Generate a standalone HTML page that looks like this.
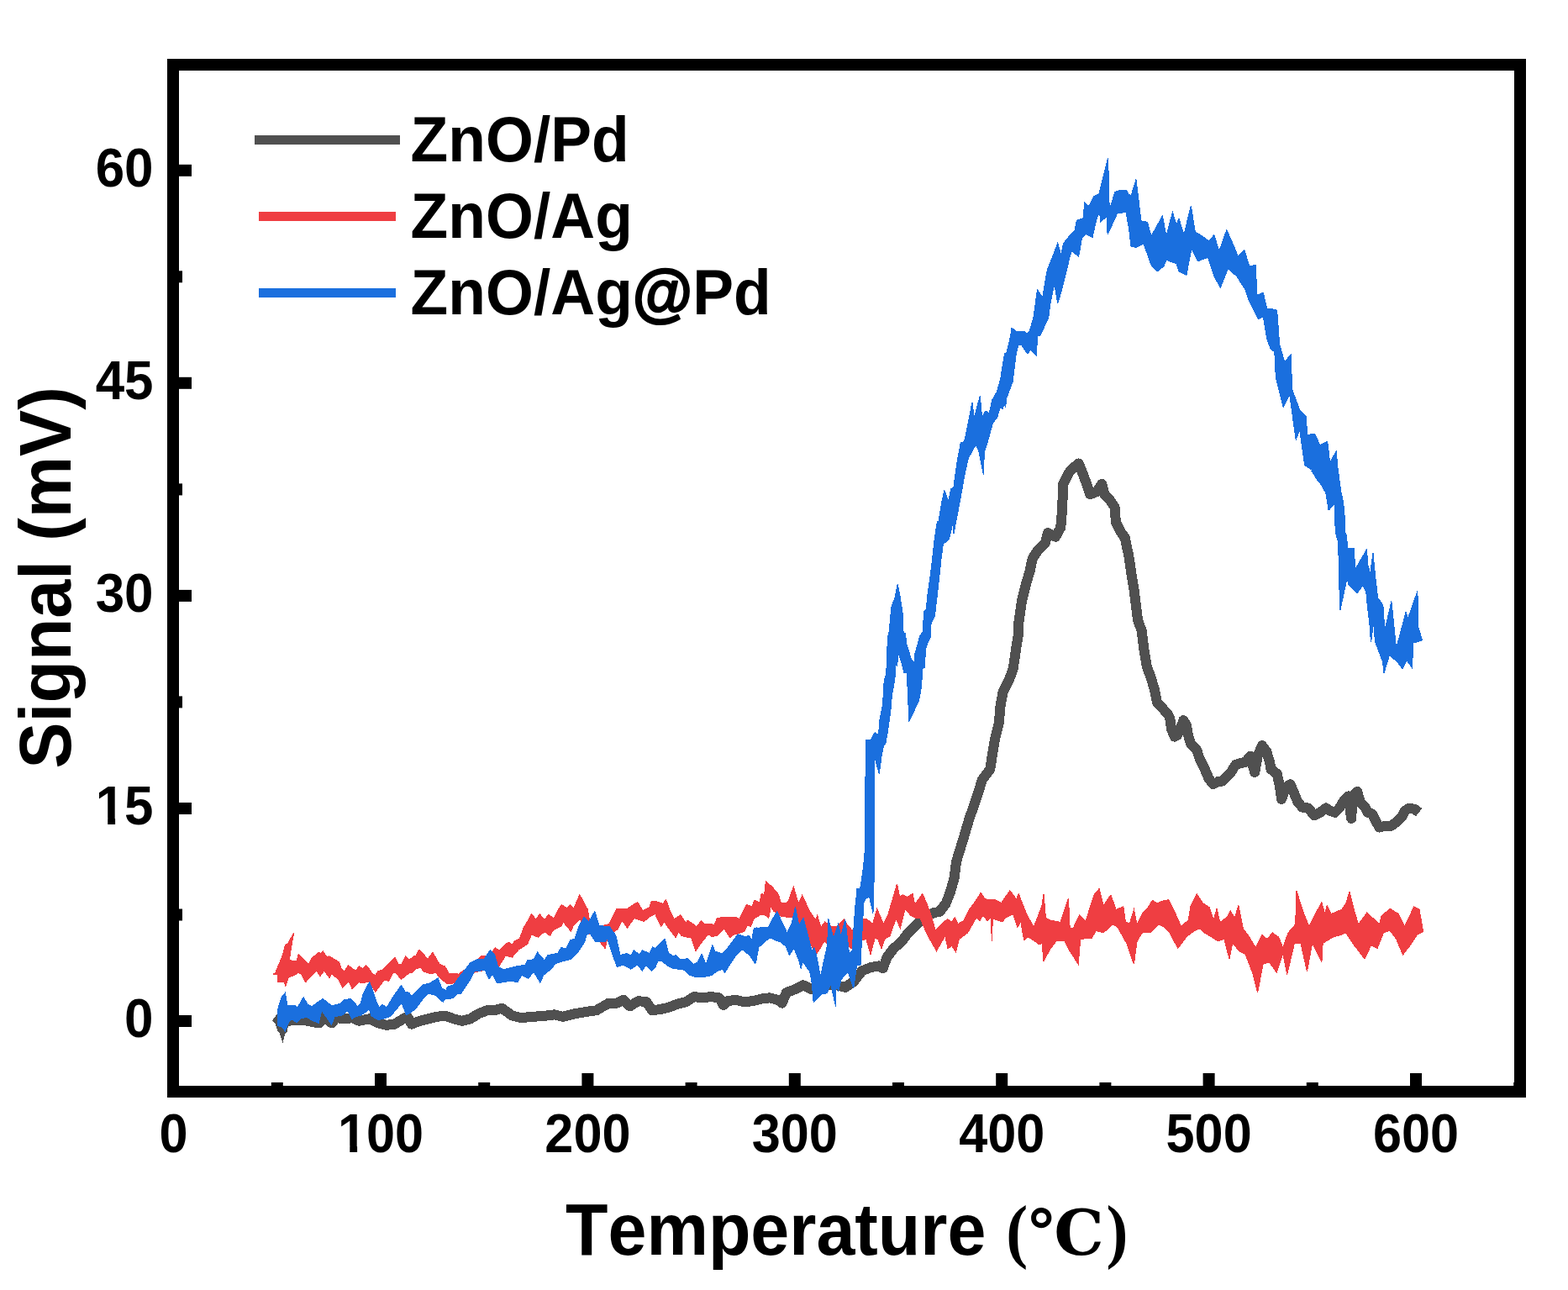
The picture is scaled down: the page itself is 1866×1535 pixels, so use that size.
<!DOCTYPE html>
<html><head><meta charset="utf-8"><title>Signal vs Temperature</title>
<style>html,body{margin:0;padding:0;background:#fff;}svg{display:block;}text{font-kerning:none;font-feature-settings:'kern' 0;}</style>
</head><body>
<svg width="1866" height="1535" viewBox="0 0 1866 1535">
<rect width="1866" height="1535" fill="#fff"/>
<g shape-rendering="crispEdges"><polyline points="327.5,1209.8 332.5,1213.6 336.2,1224.8 337.5,1217.3 347.5,1213.6 360.0,1213.6 372.4,1216.1 379.9,1217.3 384.9,1209.8 394.9,1217.3 399.9,1211.1 409.9,1212.3 419.9,1211.1 427.4,1214.8 439.9,1212.3 449.9,1217.3 459.9,1219.8 469.8,1218.6 479.8,1212.3 484.8,1209.8 489.8,1218.6 499.8,1214.8 509.8,1212.3 519.8,1209.8 529.8,1208.6 539.8,1212.3 549.8,1214.8 559.8,1212.3 569.7,1206.1 579.7,1202.3 589.7,1201.8 597.2,1199.8 609.7,1208.6 619.7,1211.1 634.7,1209.8 649.7,1208.6 659.7,1207.3 669.6,1209.8 684.6,1206.1 699.6,1203.6 709.6,1202.3 724.6,1193.6 734.6,1193.6 742.1,1189.8 749.6,1197.3 759.6,1191.1 769.5,1192.3 776.0,1202.3 786.0,1201.0 796.0,1198.6 806.0,1194.8 816.0,1192.3 826.0,1186.1 835.9,1187.3 845.9,1186.1 855.9,1187.3 860.9,1196.1 865.9,1191.1 875.9,1189.8 885.9,1192.3 895.9,1191.1 905.9,1188.6 915.9,1187.3 925.9,1189.8 930.8,1193.6 935.8,1181.1 945.8,1177.3 955.8,1172.3 965.8,1177.3 975.8,1174.8 985.8,1172.3 995.8,1172.3 1005.8,1174.8 1015.8,1168.1 1025.8,1155.3 1035.7,1151.3 1045.7,1149.4 1050.7,1152.3 1055.7,1138.9 1063.2,1128.9 1073.2,1120.1 1080.7,1109.9 1085.7,1104.9 1093.2,1097.9 1100.7,1091.2 1110.7,1086.2 1118.2,1084.9 1125.7,1074.9 1130.6,1062.4 1135.6,1045.0 1138.1,1025.0 1145.9,999.9 1153.6,973.8 1161.2,952.4 1168.9,927.9 1178.1,915.7 1181.1,897.3 1184.2,878.9 1188.8,860.6 1190.3,842.2 1193.4,823.8 1201.0,808.5 1205.6,796.3 1208.7,774.9 1211.7,756.5 1212.6,738.1 1216.3,713.7 1220.9,695.3 1225.5,680.0 1228.6,664.7 1234.7,655.5 1243.9,646.3 1246.9,634.1 1256.1,638.7 1262.2,627.9 1263.8,609.6 1264.7,591.2 1265.3,575.9 1271.4,563.7 1274.5,559.1 1283.7,551.4 1289.8,566.7 1297.4,588.2 1305.1,585.1 1311.2,575.9 1314.3,588.2 1320.4,594.3 1326.5,603.5 1328.0,621.8 1332.6,631.0 1338.8,640.2 1343.3,661.6 1346.4,683.0 1349.5,701.4 1354.1,738.1 1358.6,750.4 1361.7,774.9 1364.8,793.2 1369.4,805.5 1374.0,820.8 1377.0,836.1 1383.1,842.2 1390.8,851.4 1392.4,855.4 1394.1,867.7 1397.7,876.6 1401.2,874.8 1407.4,860.7 1408.3,857.1 1411.8,862.4 1413.6,873.1 1417.1,885.4 1424.2,892.5 1427.7,903.1 1433.1,913.7 1438.4,926.1 1443.7,933.2 1450.7,929.6 1454.3,929.6 1461.3,922.6 1464.9,919.0 1470.2,910.2 1475.5,908.4 1482.6,906.6 1487.9,899.6 1493.2,919.0 1496.7,899.6 1502.0,887.2 1507.3,894.3 1510.9,906.6 1512.6,915.5 1519.7,920.8 1523.2,936.7 1525.0,950.9 1530.3,936.7 1535.6,933.2 1539.2,942.0 1544.5,954.4 1549.8,960.6 1556.8,961.5 1563.9,970.3 1571.0,966.8 1578.1,961.5 1583.4,965.0 1588.7,966.8 1594.0,961.5 1599.3,952.6 1604.6,947.3 1608.1,973.8 1609.9,947.3 1615.2,942.0 1618.7,954.4 1624.0,959.7 1627.6,966.8 1632.9,968.5 1638.2,979.2 1641.7,984.5 1648.8,982.7 1655.9,982.7 1662.9,977.4 1668.2,972.1 1671.8,965.0 1677.1,961.5 1684.2,963.2 1688.6,966.8" fill="none" stroke="#505050" stroke-width="12" stroke-linejoin="round"/><polygon points="327.5,1213.0 336.5,1241.0 341.0,1224.0 336.0,1214.0" fill="#505050"/><polygon points="325.1,1159.0 327.7,1157.7 332.9,1144.9 336.7,1135.9 339.3,1124.3 341.9,1123.7 349.6,1110.2 346.4,1128.2 344.4,1142.3 347.0,1143.0 350.2,1143.0 352.8,1143.6 355.4,1135.2 358.6,1138.5 367.6,1147.5 370.8,1140.4 379.2,1133.3 381.7,1134.6 384.3,1132.0 389.5,1139.1 392.0,1137.8 397.2,1141.0 403.6,1144.9 406.2,1152.6 410.0,1155.8 414.5,1148.7 422.9,1155.2 427.4,1150.0 431.9,1152.6 435.1,1148.7 438.3,1151.3 443.5,1159.0 446.7,1160.3 449.9,1155.8 455.0,1153.9 458.9,1150.0 469.8,1139.1 474.3,1147.5 477.6,1148.1 482.7,1137.8 487.2,1142.3 492.3,1137.8 494.9,1137.2 498.8,1130.1 509.1,1141.0 514.9,1133.3 523.2,1147.5 529.6,1150.0 534.1,1158.4 545.0,1159.0 545.0,1159.6 559.3,1149.3 572.8,1137.7 577.3,1137.7 583.7,1135.2 589.5,1127.5 594.0,1131.3 600.5,1124.9 605.0,1121.0 609.5,1124.2 612.0,1120.4 618.5,1116.5 623.6,1103.0 627.5,1096.6 632.6,1087.6 637.7,1094.0 642.3,1087.6 648.0,1094.7 652.5,1088.2 659.0,1092.7 663.5,1083.7 668.0,1076.7 675.0,1080.5 678.3,1076.7 682.8,1081.2 689.8,1064.4 699.5,1082.4 701.4,1094.0 711.1,1099.2 713.6,1101.7 722.6,1100.5 725.2,1099.2 734.2,1081.2 745.8,1081.8 758.6,1073.4 765.1,1083.7 772.8,1079.9 775.4,1072.2 780.0,1072.2 780.0,1072.4 786.7,1074.4 788.6,1075.7 792.5,1070.5 797.0,1082.7 802.2,1093.7 809.9,1088.5 816.3,1098.2 818.2,1095.0 829.2,1102.7 834.3,1095.6 838.2,1099.5 847.2,1099.5 849.7,1100.7 853.6,1092.4 864.5,1091.1 875.5,1091.1 880.0,1093.7 888.3,1076.3 894.8,1078.9 898.0,1071.2 903.8,1073.7 906.3,1063.4 909.5,1064.7 911.5,1048.6 919.2,1055.7 926.3,1064.1 929.5,1074.4 935.9,1074.4 938.5,1071.2 944.3,1055.1 950.1,1075.0 954.6,1065.4 964.2,1085.3 970.6,1094.3 972.6,1089.2 977.1,1103.3 981.6,1096.9 988.6,1102.0 996.4,1102.0 1001.5,1096.9 1005.0,1093.7 1005.0,1093.7 1007.7,1099.5 1014.1,1107.2 1020.6,1096.9 1027.0,1093.0 1030.9,1093.0 1038.6,1099.5 1043.7,1081.4 1051.4,1099.5 1056.6,1089.2 1067.5,1051.9 1070.7,1067.3 1074.6,1064.7 1079.7,1067.3 1086.2,1063.4 1088.7,1076.3 1097.7,1063.4 1102.3,1073.7 1106.8,1085.3 1109.3,1093.0 1113.2,1107.2 1123.5,1096.9 1127.3,1093.7 1132.5,1096.9 1136.3,1091.7 1140.2,1099.5 1146.6,1095.6 1153.1,1082.7 1160.8,1072.4 1167.2,1062.2 1172.3,1069.9 1183.9,1070.5 1191.6,1074.4 1201.9,1059.6 1209.6,1069.9 1212.2,1063.4 1221.2,1086.6 1230.2,1103.3 1240.0,1077.6 1242.0,1063.7 1244.5,1092.4 1249.5,1094.9 1255.7,1096.2 1262.0,1097.4 1267.0,1082.4 1271.5,1068.7 1273.2,1104.9 1277.0,1104.9 1284.5,1088.7 1292.0,1096.2 1301.9,1064.9 1308.2,1057.4 1313.2,1077.4 1321.9,1064.9 1328.2,1082.4 1336.9,1078.7 1339.4,1097.4 1344.4,1098.7 1349.4,1082.4 1353.1,1099.9 1359.4,1087.4 1366.9,1078.7 1371.4,1071.2 1376.9,1074.9 1381.9,1072.4 1390.6,1070.7 1396.8,1082.4 1405.6,1102.4 1414.3,1094.9 1416.8,1078.7 1424.3,1063.7 1431.8,1074.9 1439.3,1079.9 1444.3,1094.9 1448.0,1081.2 1451.8,1097.4 1460.5,1091.2 1464.3,1083.7 1469.3,1092.4 1473.8,1077.4 1479.3,1104.9 1486.8,1114.9 1494.2,1127.4 1501.7,1112.4 1508.0,1117.4 1514.2,1109.9 1521.7,1114.9 1526.7,1127.4 1533.0,1109.9 1541.7,1099.9 1542.9,1059.9 1551.7,1087.4 1557.9,1102.4 1566.7,1084.9 1572.9,1073.7 1576.7,1087.4 1579.2,1077.4 1584.2,1087.4 1596.6,1082.4 1601.6,1074.9 1606.1,1061.2 1611.6,1083.7 1616.6,1099.9 1626.6,1086.2 1636.6,1094.9 1641.6,1099.9 1644.1,1089.9 1654.1,1081.2 1664.1,1087.4 1671.6,1102.4 1682.8,1078.7 1689.1,1082.4 1693.5,1107.4 1693.5,1108.6 1686.6,1112.4 1679.1,1123.6 1669.6,1136.1 1661.6,1117.4 1654.1,1107.4 1646.6,1109.9 1639.1,1128.6 1631.6,1124.9 1624.1,1141.1 1611.6,1124.9 1601.6,1109.9 1596.6,1112.4 1586.7,1114.9 1574.2,1122.4 1572.9,1144.9 1561.7,1122.4 1555.4,1156.1 1547.9,1122.4 1540.5,1122.4 1531.7,1159.8 1526.7,1134.9 1519.2,1157.3 1510.5,1144.9 1503.0,1147.4 1496.7,1181.1 1490.5,1157.3 1481.8,1134.9 1475.5,1132.4 1466.8,1122.4 1463.0,1141.1 1456.8,1117.4 1449.3,1119.9 1441.8,1114.9 1433.1,1109.9 1428.1,1104.9 1421.8,1107.4 1411.8,1114.9 1401.8,1128.6 1391.9,1109.9 1384.4,1102.4 1379.4,1099.9 1369.4,1109.9 1359.4,1109.9 1353.1,1119.9 1349.4,1147.4 1340.7,1122.4 1329.4,1102.4 1324.4,1099.9 1313.2,1109.9 1304.4,1107.4 1299.4,1116.1 1285.7,1117.4 1283.2,1147.4 1272.0,1129.9 1267.0,1119.9 1257.0,1119.9 1249.5,1129.9 1242.0,1143.6 1240.0,1122.6 1236.7,1123.9 1231.5,1120.0 1223.8,1114.9 1218.6,1118.7 1214.8,1096.9 1210.9,1103.3 1205.8,1087.9 1196.8,1091.7 1192.9,1096.9 1181.4,1093.0 1180.3,1120.0 1179.4,1091.7 1174.9,1095.6 1169.8,1089.2 1165.9,1095.6 1162.1,1091.7 1151.8,1109.7 1141.5,1117.5 1137.6,1132.9 1132.5,1125.2 1128.0,1129.0 1124.8,1113.6 1114.5,1131.6 1104.2,1113.6 1099.0,1102.0 1095.2,1093.0 1090.0,1092.4 1083.6,1089.2 1077.2,1081.4 1071.4,1104.6 1066.2,1093.0 1059.2,1113.6 1056.6,1114.9 1052.7,1117.5 1048.9,1129.0 1045.0,1117.5 1041.2,1116.2 1036.0,1135.5 1030.9,1117.5 1025.7,1118.7 1012.9,1129.0 1005.0,1118.7 1005.0,1121.3 1001.5,1120.0 991.2,1117.5 983.5,1122.6 980.9,1120.0 975.8,1129.0 970.6,1136.8 966.8,1127.7 960.4,1109.7 952.6,1099.5 942.3,1091.7 929.5,1090.5 920.5,1084.0 917.3,1078.9 914.7,1092.4 911.5,1089.2 905.0,1088.5 897.3,1093.0 893.5,1102.7 889.6,1100.7 885.8,1108.5 878.0,1111.0 872.9,1112.3 869.0,1116.2 861.3,1104.6 858.7,1108.5 853.6,1113.0 847.2,1114.9 843.3,1111.7 836.9,1118.7 827.9,1131.6 822.7,1115.5 818.9,1115.5 811.2,1113.6 807.3,1109.1 804.1,1115.5 795.7,1104.6 790.6,1096.9 786.7,1102.7 780.0,1088.9 780.0,1087.6 774.1,1090.2 766.4,1096.6 754.8,1092.7 746.4,1104.3 740.6,1095.3 735.5,1105.0 730.4,1109.5 722.6,1117.2 720.1,1128.7 711.1,1117.2 700.8,1110.7 690.5,1094.0 682.8,1100.5 679.5,1108.2 669.9,1096.6 668.6,1101.7 658.3,1106.9 654.5,1113.3 648.0,1108.8 640.3,1115.2 632.6,1112.0 627.5,1123.6 617.2,1130.0 609.5,1139.0 601.7,1137.1 593.4,1150.6 585.0,1153.2 576.7,1154.5 564.4,1157.0 555.4,1168.6 545.0,1167.3 545.0,1168.7 538.6,1170.0 530.9,1170.0 523.2,1162.9 518.1,1157.1 513.6,1159.0 503.9,1155.8 500.7,1151.3 494.9,1152.6 491.1,1157.1 487.2,1157.7 482.1,1161.6 477.6,1165.5 471.1,1157.7 467.9,1157.7 462.8,1167.4 457.6,1166.1 453.8,1170.6 446.7,1180.3 439.6,1168.0 435.8,1168.7 430.6,1170.0 426.8,1168.7 419.0,1176.4 415.2,1168.0 407.5,1175.1 403.6,1166.8 399.7,1162.9 394.6,1158.4 392.0,1163.5 385.6,1155.2 381.1,1161.6 376.6,1155.2 370.2,1161.6 363.7,1168.7 358.6,1159.0 354.7,1157.7 350.2,1160.3 345.7,1162.3 343.2,1162.9 339.9,1173.2 338.0,1168.7 330.3,1168.7 330.3,1159.0 325.1,1159.0" fill="#ef3e42" stroke="#ef3e42" stroke-width="1"/><polygon points="330.9,1200.0 334.8,1187.2 339.3,1181.4 341.9,1196.2 350.9,1196.2 354.1,1198.7 361.2,1186.5 366.3,1195.5 371.4,1197.5 376.6,1193.6 384.3,1188.5 394.6,1196.8 399.7,1195.5 404.9,1194.2 410.0,1189.7 417.7,1188.5 425.5,1197.5 429.3,1193.6 431.9,1183.3 439.6,1168.5 443.5,1178.2 448.0,1192.3 451.2,1198.7 455.0,1195.5 460.2,1198.7 467.9,1185.9 477.6,1172.4 482.1,1180.1 487.2,1181.4 489.8,1185.9 497.5,1178.2 503.9,1171.7 511.6,1169.8 521.3,1164.0 525.8,1176.2 530.9,1178.2 532.2,1174.3 539.9,1171.7 546.4,1162.7 560.0,1145.4 568.3,1141.6 576.0,1141.6 583.1,1130.7 588.9,1136.5 592.7,1150.6 599.2,1153.8 611.4,1150.6 624.9,1148.0 627.5,1142.9 635.2,1141.6 639.7,1133.2 648.0,1142.9 651.9,1136.5 663.5,1134.5 668.0,1127.5 673.8,1128.7 678.9,1118.5 684.1,1117.2 689.2,1101.7 695.0,1091.4 700.8,1096.6 707.8,1084.4 713.0,1101.7 725.2,1102.4 732.9,1113.3 738.1,1136.5 745.8,1134.5 750.9,1137.1 754.1,1130.7 761.2,1135.8 764.4,1130.7 772.8,1134.5 776.7,1126.8 780.0,1128.7 782.9,1125.2 791.2,1117.5 795.7,1134.2 800.9,1137.4 804.7,1136.8 809.9,1141.9 818.2,1140.6 825.3,1147.7 830.5,1144.5 835.0,1134.8 840.1,1147.7 847.8,1124.5 851.0,1132.3 860.0,1134.8 865.2,1129.0 872.9,1118.7 878.0,1111.7 888.3,1114.9 890.9,1113.0 894.8,1118.1 897.3,1104.6 900.0,1104.0 900.0,1104.3 914.4,1103.2 918.8,1094.3 924.9,1084.4 928.8,1093.2 936.5,1109.8 942.1,1098.8 946.5,1079.4 950.9,1101.0 955.9,1092.1 959.8,1106.5 966.4,1132.0 968.7,1127.6 970.9,1133.1 976.4,1161.9 984.7,1124.2 985.8,1093.2 991.9,1116.5 997.5,1099.3 1000.8,1114.3 1005.8,1093.8 1010.7,1135.3 1014.1,1130.9 1016.3,1099.9 1018.5,1071.1 1020.2,1060.0 1039.5,1060.0 1039.0,1086.6 1034.6,1067.2 1029.6,1070.0 1027.9,1074.4 1026.2,1104.3 1024.0,1148.6 1019.6,1148.6 1015.7,1175.7 1009.1,1156.3 1001.3,1165.2 997.5,1179.6 995.2,1165.2 994.7,1198.4 988.6,1170.7 984.2,1181.8 977.5,1182.9 968.1,1192.3 966.4,1170.7 963.7,1156.3 955.4,1144.2 953.2,1152.5 950.9,1143.1 948.2,1136.4 944.9,1128.7 939.3,1136.4 935.4,1126.4 928.8,1120.9 922.1,1118.7 916.6,1115.9 911.1,1119.8 905.5,1125.3 903.3,1125.3 900.0,1141.9 900.0,1143.2 898.6,1146.4 892.2,1136.8 883.2,1129.7 876.8,1135.5 869.0,1147.0 862.6,1157.3 860.0,1153.5 853.6,1155.4 847.2,1160.5 838.2,1162.5 827.9,1162.5 820.2,1159.9 813.7,1154.1 800.9,1152.2 793.2,1148.3 788.0,1143.8 782.9,1143.2 780.0,1150.6 775.4,1155.1 768.3,1148.7 764.4,1155.1 758.6,1148.0 750.9,1153.2 741.9,1148.0 734.2,1150.6 726.5,1128.7 722.6,1117.2 720.1,1121.0 708.5,1120.4 702.1,1110.7 698.2,1112.0 695.6,1121.0 687.9,1132.6 680.2,1141.0 668.6,1144.2 660.9,1146.8 655.8,1153.2 646.8,1160.3 642.9,1169.3 635.2,1156.4 628.7,1164.1 621.0,1160.3 615.9,1168.6 606.9,1167.3 591.4,1169.9 586.3,1159.6 581.8,1164.8 577.3,1154.5 564.4,1155.8 560.0,1165.3 548.9,1182.0 543.8,1182.7 538.6,1187.8 529.6,1189.1 527.1,1192.3 516.8,1183.3 509.1,1182.7 502.6,1189.7 494.9,1200.0 488.5,1205.2 483.3,1207.7 478.2,1193.6 471.8,1200.7 465.3,1209.0 456.3,1212.3 449.9,1213.5 442.2,1209.0 439.0,1200.7 435.8,1203.9 429.3,1208.4 422.9,1209.7 419.0,1212.9 413.9,1202.6 408.1,1207.7 402.3,1209.0 398.5,1209.0 394.6,1219.3 383.0,1202.6 379.2,1217.4 371.4,1214.2 365.0,1210.3 358.6,1211.6 352.8,1216.8 347.7,1212.9 343.8,1215.5 339.3,1227.0 335.4,1221.9 330.3,1220.6" fill="#1a6fde" stroke="#1a6fde" stroke-width="1"/><polygon points="1019.9,1066.0 1019.9,1057.0 1023.8,1057.0 1027.7,1030.0 1029.4,1010.0 1030.2,900.2 1030.2,880.7 1036.1,880.7 1041.2,871.4 1045.4,874.7 1047.1,855.3 1050.5,838.3 1052.2,809.5 1054.7,802.7 1055.6,780.7 1056.4,758.6 1058.1,751.9 1060.7,723.1 1064.9,711.2 1068.3,695.1 1070.8,707.8 1074.2,729.8 1075.1,753.6 1077.6,753.6 1078.5,765.4 1084.4,784.1 1087.8,789.2 1088.6,779.0 1092.9,763.7 1094.6,756.9 1098.0,751.9 1099.7,728.1 1102.2,724.7 1103.9,707.8 1106.4,690.8 1109.0,670.5 1112.4,640.0 1115.4,620.1 1117.1,620.1 1121.3,594.7 1123.9,583.7 1128.9,596.4 1131.5,582.0 1134.9,579.5 1139.1,549.0 1143.3,527.0 1147.6,525.3 1152.6,501.6 1156.9,478.7 1159.4,497.4 1166.2,471.1 1168.7,496.5 1173.0,488.9 1177.2,492.3 1180.6,476.2 1186.5,466.0 1190.7,450.8 1193.3,433.9 1195.8,420.3 1197.5,421.2 1202.6,400.0 1204.0,390.3 1209.4,394.2 1218.8,394.2 1222.0,397.3 1225.1,394.2 1229.8,378.6 1234.5,344.9 1240.7,353.5 1246.2,321.5 1250.9,309.8 1258.7,289.4 1262.6,302.7 1265.7,289.4 1272.0,281.6 1274.3,278.5 1279.0,273.8 1281.4,262.1 1289.2,259.7 1290.7,241.0 1295.4,245.7 1301.7,233.9 1307.9,230.8 1312.6,211.3 1318.6,187.8 1320.1,244.1 1322.0,244.9 1326.7,228.5 1331.4,226.9 1340.8,226.9 1344.7,233.9 1343.9,273.8 1340.0,252.7 1329.8,253.5 1318.1,279.3 1317.3,257.4 1309.5,264.4 1308.7,251.9 1304.8,261.3 1300.1,282.4 1292.3,278.5 1287.6,283.2 1283.7,305.1 1275.1,298.8 1272.0,309.8 1270.4,317.6 1264.2,342.6 1258.7,361.4 1254.8,337.9 1250.1,359.8 1247.7,378.6 1237.6,399.7 1234.8,400.0 1233.1,422.9 1226.3,416.1 1222.9,421.2 1215.3,410.2 1211.9,410.2 1209.4,420.3 1206.8,440.6 1205.1,454.2 1197.5,474.5 1196.7,484.7 1195.0,479.6 1193.3,486.4 1189.9,485.5 1186.5,497.4 1181.4,503.3 1176.4,521.9 1171.3,538.8 1170.4,565.1 1164.5,535.5 1161.1,529.5 1152.6,544.8 1148.4,562.5 1143.3,591.3 1139.1,613.3 1134.9,635.4 1134.0,621.8 1129.8,640.4 1127.3,636.2 1130.2,640.0 1125.9,645.1 1122.5,646.8 1120.0,665.4 1117.5,689.2 1112.4,733.2 1108.1,741.7 1107.3,758.6 1103.9,765.4 1101.4,772.2 1100.5,794.2 1098.0,795.9 1096.3,818.0 1093.7,833.2 1081.9,858.6 1079.3,801.0 1075.9,800.2 1072.5,787.5 1069.2,777.3 1067.5,792.5 1065.8,790.8 1064.9,807.8 1063.2,818.0 1061.5,826.4 1059.8,846.8 1056.4,870.5 1053.9,884.1 1051.4,888.0 1049.0,900.0 1046.3,921.0 1041.0,901.5 1040.6,1033.0 1039.5,1066.0" fill="#1a6fde" stroke="#1a6fde" stroke-width="1"/><polygon points="1340.0,228.5 1346.0,233.0 1352.0,213.5 1358.0,262.9 1365.5,264.4 1370.0,280.9 1383.4,256.9 1387.9,280.9 1395.4,252.4 1399.9,267.4 1402.9,259.9 1408.9,279.4 1417.3,244.9 1422.4,276.4 1428.4,279.4 1438.9,286.9 1444.9,279.4 1450.8,298.9 1459.8,273.4 1470.3,297.4 1473.3,304.9 1480.8,297.4 1486.8,316.8 1494.3,315.3 1495.8,351.3 1503.3,348.3 1507.8,367.8 1513.8,367.8 1519.7,369.3 1522.7,409.7 1528.7,430.7 1536.2,421.7 1537.7,463.6 1546.7,487.6 1554.2,495.1 1555.7,517.6 1564.7,516.1 1570.7,529.5 1579.7,525.0 1582.7,550.5 1590.1,537.0 1594.6,583.5 1600.0,613.4 1600.0,659.9 1594.6,659.9 1591.6,631.4 1588.7,595.4 1582.7,605.9 1576.7,583.5 1570.7,574.5 1561.7,559.5 1552.7,553.5 1546.7,511.6 1542.2,523.5 1534.7,469.6 1527.2,484.6 1518.3,448.7 1516.8,418.7 1512.3,415.7 1507.8,403.7 1503.3,376.8 1497.3,379.7 1486.8,358.8 1482.3,345.3 1471.8,328.8 1461.3,319.8 1452.3,342.3 1444.9,328.8 1437.4,306.4 1425.4,310.8 1417.9,295.9 1411.9,327.3 1402.9,322.8 1399.9,313.8 1387.9,309.3 1384.9,316.8 1377.4,322.8 1370.0,315.3 1361.0,289.9 1352.0,294.4 1346.0,292.9 1340.0,241.9" fill="#1a6fde" stroke="#1a6fde" stroke-width="1"/><polygon points="1592.5,560.0 1595.7,584.4 1598.2,595.8 1599.8,607.2 1599.8,631.6 1602.2,636.5 1603.8,652.0 1611.2,652.0 1612.8,677.2 1626.6,653.6 1627.5,670.7 1630.7,682.1 1634.0,657.7 1636.4,683.7 1639.7,711.4 1644.6,717.9 1646.2,722.8 1647.8,750.5 1655.9,715.5 1661.6,771.7 1673.0,728.5 1675.5,735.8 1686.9,703.3 1687.7,745.6 1692.6,761.9 1682.0,765.1 1680.4,794.5 1673.9,785.5 1669.0,796.1 1663.3,787.9 1653.5,779.8 1647.0,801.0 1645.4,787.1 1636.4,763.5 1634.8,739.9 1631.5,764.3 1629.9,742.4 1627.5,722.8 1625.8,704.9 1621.8,696.8 1615.2,705.7 1604.7,695.1 1603.0,688.6 1594.9,726.1 1594.1,706.5 1593.3,670.7 1592.5,644.7 1589.2,633.3 1588.4,599.1 1581.1,607.2 1577.8,586.1 1575.4,582.8 1572.1,573.0 1568.8,573.0 1560.7,560.0" fill="#1a6fde" stroke="#1a6fde" stroke-width="1"/></g>
<rect x="206" y="77" width="1603" height="1222" fill="none" stroke="#000" stroke-width="14"/>
<g fill="#000"><rect x="446.0" y="1277" width="14" height="16"/><rect x="692.4" y="1277" width="14" height="16"/><rect x="938.8" y="1277" width="14" height="16"/><rect x="1185.2" y="1277" width="14" height="16"/><rect x="1431.6" y="1277" width="14" height="16"/><rect x="1678.0" y="1277" width="14" height="16"/><rect x="322.8" y="1288" width="14" height="5"/><rect x="569.2" y="1288" width="14" height="5"/><rect x="815.6" y="1288" width="14" height="5"/><rect x="1062.0" y="1288" width="14" height="5"/><rect x="1308.4" y="1288" width="14" height="5"/><rect x="1554.8" y="1288" width="14" height="5"/><rect x="1801.2" y="1288" width="14" height="5"/><rect x="212" y="1208.0" width="16" height="14"/><rect x="212" y="955.0" width="16" height="14"/><rect x="212" y="701.9" width="16" height="14"/><rect x="212" y="448.8" width="16" height="14"/><rect x="212" y="195.8" width="16" height="14"/><rect x="212" y="1081.5" width="5" height="14"/><rect x="212" y="828.4" width="5" height="14"/><rect x="212" y="575.4" width="5" height="14"/><rect x="212" y="322.3" width="5" height="14"/></g>
<g font-family="'Liberation Sans', Arial, sans-serif" font-weight="bold" fill="#000"><text transform="translate(206.6,1370.8) scale(0.935,1)" text-anchor="middle" font-size="65.5">0</text><text transform="translate(453.0,1370.8) scale(0.935,1)" text-anchor="middle" font-size="65.5">100</text><text transform="translate(699.4,1370.8) scale(0.935,1)" text-anchor="middle" font-size="65.5">200</text><text transform="translate(945.8,1370.8) scale(0.935,1)" text-anchor="middle" font-size="65.5">300</text><text transform="translate(1192.2,1370.8) scale(0.935,1)" text-anchor="middle" font-size="65.5">400</text><text transform="translate(1438.6,1370.8) scale(0.935,1)" text-anchor="middle" font-size="65.5">500</text><text transform="translate(1685.0,1370.8) scale(0.935,1)" text-anchor="middle" font-size="65.5">600</text><text transform="translate(182.5,1233.8) scale(0.945,1)" text-anchor="end" font-size="65.5">0</text><text transform="translate(182.5,980.8) scale(0.945,1)" text-anchor="end" font-size="65.5">15</text><text transform="translate(182.5,727.7) scale(0.945,1)" text-anchor="end" font-size="65.5">30</text><text transform="translate(182.5,474.6) scale(0.945,1)" text-anchor="end" font-size="65.5">45</text><text transform="translate(182.5,221.6) scale(0.945,1)" text-anchor="end" font-size="65.5">60</text><rect x="303" y="161.0" width="173" height="11" fill="#505050"/><text transform="translate(488.6,191.7) scale(0.972,1)" font-size="75.3">ZnO/Pd</text><rect x="308" y="252.0" width="163" height="11" fill="#ef3e42"/><text transform="translate(488.6,282.7) scale(0.972,1)" font-size="75.3">ZnO/Ag</text><rect x="308" y="343.0" width="163" height="11" fill="#1a6fde"/><text transform="translate(488.6,373.7) scale(0.972,1)" font-size="75.3">ZnO/Ag<tspan stroke="#000" stroke-width="2.2" stroke-linejoin="round">@</tspan>Pd</text><text transform="translate(673.1,1493.1) scale(0.945,1)" font-size="87.4">Temperature</text><text transform="translate(1197.2,1492.5) scale(0.917,1)" font-size="84.9" font-family="'Liberation Serif', 'DejaVu Serif', serif">(</text><text transform="translate(1224.15,1492.9)" font-size="74.7" font-family="'DejaVu Serif', 'Noto Serif CJK SC', serif">℃</text><text transform="translate(1316.5,1492.5) scale(0.917,1)" font-size="84.9" font-family="'Liberation Serif', 'DejaVu Serif', serif">)</text><text transform="translate(84.1,914.6) rotate(-90) scale(0.955,1)" font-size="86.5">Signal (mV)</text></g>
<rect x="404.5" y="1363.6" width="11.8" height="8.5" fill="#fff"/><rect x="425.1" y="1363.6" width="10" height="8.5" fill="#fff"/><rect x="116.5" y="973.6" width="11.7" height="8.5" fill="#fff"/><rect x="137.1" y="973.6" width="10.5" height="8.5" fill="#fff"/>
</svg>
</body></html>
